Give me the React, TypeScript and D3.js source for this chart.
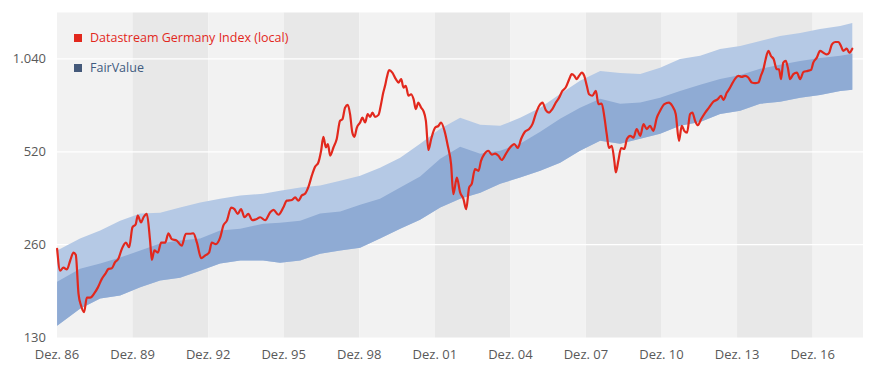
import React from "react";
import * as d3 from "d3";

// Datastream Germany Index (local) — decimal years and index values
const indexDates = [
  1986.92, 1987.04, 1987.17, 1987.31, 1987.44, 1987.57, 1987.66, 1987.77, 1987.87, 1987.99,
  1988.1, 1988.23, 1988.4, 1988.54, 1988.69, 1988.83, 1988.96, 1989.09, 1989.22, 1989.35,
  1989.49, 1989.65, 1989.78, 1989.91, 1990.04, 1990.12, 1990.25, 1990.35, 1990.48, 1990.61,
  1990.68, 1990.78, 1990.92, 1991.05, 1991.21, 1991.34, 1991.47, 1991.67, 1991.87, 1992.03,
  1992.2, 1992.33, 1992.47, 1992.64, 1992.8, 1992.95, 1993.06, 1993.22, 1993.39, 1993.52,
  1993.66, 1993.83, 1993.96, 1994.09, 1994.22, 1994.36, 1994.51, 1994.67, 1994.85, 1994.98,
  1995.18, 1995.38, 1995.51, 1995.71, 1995.9, 1996.04, 1996.24, 1996.37, 1996.5, 1996.63,
  1996.77, 1996.9, 1997.03, 1997.16, 1997.29, 1997.4, 1997.49, 1997.59, 1997.67, 1997.76,
  1997.89, 1998.02, 1998.15, 1998.25, 1998.35, 1998.46, 1998.55, 1998.64, 1998.72, 1998.82,
  1998.95, 1999.04, 1999.15, 1999.25, 1999.35, 1999.44, 1999.54, 1999.68, 1999.78, 1999.87,
  1999.94, 2000.01, 2000.1, 2000.23, 2000.37, 2000.47, 2000.58, 2000.67, 2000.76, 2000.87,
  2000.97, 2001.07, 2001.16, 2001.26, 2001.37, 2001.46, 2001.56, 2001.66, 2001.77, 2001.93,
  2002.06, 2002.16, 2002.3, 2002.43, 2002.56, 2002.65, 2002.79, 2002.92, 2003.05, 2003.16,
  2003.28, 2003.38, 2003.51, 2003.65, 2003.75, 2003.88, 2004.04, 2004.18, 2004.31, 2004.44,
  2004.57, 2004.73, 2004.9, 2005.07, 2005.21, 2005.34, 2005.5, 2005.66, 2005.79, 2005.92,
  2006.06, 2006.19, 2006.32, 2006.45, 2006.58, 2006.72, 2006.85, 2006.98, 2007.11, 2007.25,
  2007.35, 2007.46, 2007.55, 2007.64, 2007.75, 2007.85, 2007.95, 2008.04, 2008.17, 2008.31,
  2008.41, 2008.54, 2008.65, 2008.74, 2008.83, 2008.94, 2009.04, 2009.1, 2009.2, 2009.31,
  2009.44, 2009.54, 2009.67, 2009.8, 2009.93, 2010.07, 2010.2, 2010.33, 2010.46, 2010.59,
  2010.73, 2010.86, 2011.03, 2011.21, 2011.34, 2011.48, 2011.61, 2011.72, 2011.82, 2011.93,
  2012.05, 2012.14, 2012.25, 2012.36, 2012.49, 2012.65, 2012.8, 2012.97, 2013.15, 2013.28,
  2013.37, 2013.51, 2013.64, 2013.73, 2013.84, 2013.97, 2014.1, 2014.23, 2014.36, 2014.5,
  2014.63, 2014.76, 2014.87, 2014.96, 2015.05, 2015.16, 2015.26, 2015.37, 2015.49, 2015.58,
  2015.66, 2015.75, 2015.85, 2015.93, 2016.02, 2016.15, 2016.29, 2016.42, 2016.55, 2016.72,
  2016.85, 2016.94, 2017.08, 2017.21, 2017.34, 2017.48, 2017.57, 2017.68, 2017.81, 2017.94,
  2018.04, 2018.13, 2018.27, 2018.37, 2018.49,
];
const indexValues = [
  252, 214, 219, 216, 231, 245, 241, 180, 165, 157,
  175, 175, 181, 189, 201, 209, 217, 218, 228, 234,
  252, 264, 255, 296, 303, 323, 307, 319, 327, 268,
  232, 249, 245, 264, 264, 283, 271, 268, 258, 282,
  282, 283, 264, 235, 240, 245, 264, 261, 274, 300,
  311, 343, 339, 327, 339, 319, 327, 312, 315, 319,
  312, 331, 337, 325, 343, 361, 363, 370, 361, 375,
  381, 401, 435, 465, 480, 524, 581, 537, 551, 505,
  537, 572, 655, 664, 723, 738, 689, 600, 581, 623,
  647, 671, 647, 689, 675, 697, 675, 685, 742, 809,
  851, 905, 956, 939, 894, 872, 894, 840, 851, 790,
  799, 770, 715, 751, 723, 706, 655, 527, 572, 623,
  631, 647, 608, 544, 474, 379, 429, 384, 366, 339,
  399, 409, 457, 451, 486, 511, 524, 509, 513, 505,
  489, 511, 537, 551, 535, 572, 605, 616, 639, 689,
  733, 751, 710, 697, 715, 751, 779, 819, 840, 894,
  928, 916, 894, 916, 939, 916, 851, 799, 790, 819,
  742, 745, 671, 593, 535, 544, 486, 446, 486, 535,
  531, 572, 586, 578, 616, 586, 639, 616, 631, 608,
  671, 706, 742, 751, 733, 689, 564, 631, 608, 600,
  689, 697, 655, 634, 664, 697, 723, 755, 770, 790,
  766, 809, 840, 868, 898, 916, 910, 916, 905, 872,
  868, 872, 921, 963, 1038, 1104, 1063, 1038, 963, 963,
  894, 1012, 1025, 975, 894, 928, 939, 894, 944, 951,
  958, 1012, 1050, 1104, 1089, 1076, 1089, 1160, 1180, 1180,
  1146, 1104, 1123, 1089, 1123,
];

// FairValue band: lower bound, middle and upper bound
const bandDates = [
  1986.92, 1987.83, 1988.63, 1989.42, 1990.22, 1991.01, 1991.8, 1992.6, 1993.39, 1994.19,
  1995.1, 1995.77, 1996.57, 1997.36, 1998.16, 1998.95, 1999.74, 2000.54, 2001.33, 2002.13,
  2002.92, 2003.72, 2004.51, 2005.3, 2006.1, 2006.89, 2007.68, 2008.48, 2009.27, 2010.07,
  2010.86, 2011.65, 2012.45, 2013.24, 2014.04, 2014.83, 2015.62, 2016.42, 2017.21, 2018.01,
  2018.49,
];
const bandUpper = [
  249, 272, 289, 311, 328, 330, 343, 356, 366, 375,
  380, 389, 398, 404, 419, 435, 462, 497, 552, 617,
  670, 636, 631, 670, 722, 801, 883, 951, 937, 930,
  973, 1040, 1064, 1121, 1146, 1189, 1235, 1263, 1301, 1330,
  1360,
];
const bandMid = [
  197, 217, 226, 236, 249, 262, 268, 272, 289, 293,
  304, 306, 311, 328, 333, 350, 366, 398, 432, 494,
  540, 512, 524, 552, 604, 665, 722, 772, 744, 751,
  778, 819, 857, 896, 923, 966, 995, 1025, 1048, 1064,
  1080,
];
const bandLower = [
  142, 161, 174, 178, 189, 199, 203, 214, 226, 231,
  231, 227, 231, 243, 249, 254, 272, 293, 313, 343,
  366, 383, 410, 429, 451, 479, 524, 565, 552, 573,
  595, 631, 650, 690, 706, 744, 755, 778, 795, 819,
  826,
];

const yTicks = [130, 260, 520, 1040];
const xTickYears = [1986, 1989, 1992, 1995, 1998, 2001, 2004, 2007, 2010, 2013, 2016];
const legendItems = ["Datastream Germany Index (local)", "FairValue"];

const W = 872;
const H = 375;
const left = 57;
const right = 863;
const top = 12.5;
const bottom = 337.5;

function decToDate(t: number): Date {
  const y = Math.floor(t);
  const a = new Date(y, 0, 1).getTime();
  const b = new Date(y + 1, 0, 1).getTime();
  return new Date(a + (t - y) * (b - a));
}

const de = d3.formatLocale({ decimal: ",", thousands: ".", grouping: [3], currency: ["", "€"] });
const fmt = de.format(",");

export default function App() {
  const x = d3
    .scaleTime()
    .domain([new Date(1986, 11, 1), new Date(2018, 11, 1)])
    .range([left, right]);
  const y = d3.scaleLog().domain([130, 1040 * Math.SQRT2]).range([bottom, top]);

  const stripeEdges = [...xTickYears.map((yr) => new Date(yr, 11, 1)), new Date(2018, 11, 1)];

  const bandData = bandDates.map((d, i) => ({
    d: decToDate(d),
    lo: bandLower[i],
    mid: bandMid[i],
    hi: bandUpper[i],
  }));
  const lineData = indexDates.map((d, i) => ({ d: decToDate(d), v: indexValues[i] }));

  const lightArea = d3
    .area<any>()
    .x((p) => x(p.d))
    .y0((p) => y(p.lo))
    .y1((p) => y(p.hi));
  const darkArea = d3
    .area<any>()
    .x((p) => x(p.d))
    .y0((p) => y(p.lo))
    .y1((p) => y(p.mid));
  const line = d3
    .line<any>()
    .curve(d3.curveMonotoneX)
    .x((p) => x(p.d))
    .y((p) => y(p.v));

  const font = "'Open Sans', 'DejaVu Sans', sans-serif";

  return (
    <svg
      width={W}
      height={H}
      style={{ position: "absolute", left: 0, top: 0, display: "block", background: "#fff" }}
    >
      {stripeEdges.slice(0, -1).map((d, i) => {
        const x0 = x(d);
        const x1 = Math.min(x(stripeEdges[i + 1]), right);
        return (
          <rect
            key={i}
            x={x0}
            y={top}
            width={x1 - x0}
            height={bottom - top}
            fill={i % 2 === 0 ? "#f2f2f2" : "#e8e8e8"}
          />
        );
      })}
      {yTicks.slice(1).map((t) => (
        <line key={t} x1={left} x2={right} y1={y(t)} y2={y(t)} stroke="#ffffff" strokeWidth={1.2} />
      ))}
      <path d={lightArea(bandData) || ""} fill="#b5c9e5" />
      <path d={darkArea(bandData) || ""} fill="#8fabd4" />
      <path
        d={line(lineData) || ""}
        fill="none"
        stroke="#e2281d"
        strokeWidth={2.2}
        strokeLinejoin="round"
        strokeLinecap="round"
      />

      {yTicks.map((t) => (
        <text
          key={t}
          x={46}
          y={y(t)}
          dy="0.35em"
          textAnchor="end"
          fontFamily={font}
          fontSize={13}
          fill="#595959"
        >
          {fmt(t)}
        </text>
      ))}
      {xTickYears.map((yr) => (
        <text
          key={yr}
          x={x(new Date(yr, 11, 1))}
          y={359}
          textAnchor="middle"
          fontFamily={font}
          fontSize={13}
          fill="#595959"
        >
          {"Dez. " + String(yr % 100).padStart(2, "0")}
        </text>
      ))}

      {legendItems.map((label, i) => (
        <g key={label} transform={`translate(74, ${38 + i * 30})`}>
          <rect x={0} y={-4} width={8} height={8} fill={i === 0 ? "#e2281d" : "#44597a"} />
          <text
            x={16}
            y={0}
            dy="0.35em"
            fontFamily={font}
            fontSize={12.5}
            fill={i === 0 ? "#e2281d" : "#3f5b80"}
          >
            {label}
          </text>
        </g>
      ))}
    </svg>
  );
}
